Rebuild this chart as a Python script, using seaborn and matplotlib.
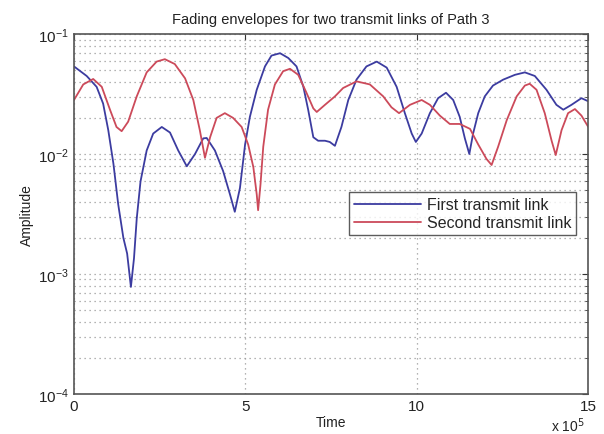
import numpy as np
import pandas as pd
import matplotlib
matplotlib.use("Agg")
import matplotlib.pyplot as plt
import matplotlib.ticker as mticker
import seaborn as sns

# Time in units of 1e5
time_first = [0.0, 0.37, 0.66, 0.85, 1.0, 1.15, 1.29, 1.44, 1.55, 1.66, 1.75, 1.83, 1.94, 2.12,
              2.31, 2.56, 2.80, 3.04, 3.29, 3.53, 3.77, 3.87, 4.11, 4.35, 4.55, 4.69, 4.84, 4.99,
              5.13, 5.33, 5.57, 5.76, 6.01, 6.25, 6.49, 6.69, 6.83, 6.98, 7.12, 7.32, 7.46, 7.61,
              7.80, 8.0, 8.24, 8.53, 8.83, 9.12, 9.41, 9.65, 9.85, 9.97, 10.14, 10.38, 10.62,
              10.85, 11.06, 11.25, 11.40, 11.53, 11.64, 11.79, 11.98, 12.22, 12.52, 12.86, 13.15,
              13.44, 13.78, 14.07, 14.27, 14.51, 14.80, 15.0]
amp_first = [0.0537, 0.0447, 0.0363, 0.0263, 0.0158, 0.0083, 0.0038, 0.0020, 0.00148, 0.00078,
             0.00135, 0.0029, 0.0059, 0.0107, 0.0148, 0.0168, 0.0151, 0.0107, 0.0079, 0.0100,
             0.0135, 0.0136, 0.0107, 0.0072, 0.0046, 0.0033, 0.0052, 0.0120, 0.0204, 0.0343,
             0.0537, 0.0661, 0.0692, 0.0631, 0.0537, 0.0363, 0.0234, 0.0138, 0.0129, 0.0129,
             0.0126, 0.0117, 0.0168, 0.0282, 0.0417, 0.0537, 0.0589, 0.0525, 0.0363, 0.0219,
             0.0148, 0.0126, 0.0148, 0.0219, 0.0292, 0.0324, 0.0282, 0.0204, 0.0135, 0.0100,
             0.0148, 0.0219, 0.0302, 0.0372, 0.0417, 0.0457, 0.0479, 0.0447, 0.0343, 0.0257,
             0.0234, 0.0257, 0.0292, 0.0275]

time_second = [0.0, 0.27, 0.56, 0.81, 1.05, 1.24, 1.39, 1.58, 1.83, 2.12, 2.41, 2.65, 2.94, 3.24,
               3.48, 3.67, 3.82, 3.97, 4.16, 4.40, 4.64, 4.89, 5.08, 5.23, 5.33, 5.37, 5.44, 5.52,
               5.66, 5.86, 6.10, 6.30, 6.54, 6.78, 6.98, 7.08, 7.32, 7.61, 7.85, 8.24, 8.63, 9.02,
               9.26, 9.48, 9.80, 10.14, 10.38, 10.67, 10.96, 11.25, 11.55, 11.79, 12.03, 12.18,
               12.37, 12.62, 12.91, 13.15, 13.29, 13.49, 13.73, 13.93, 14.05, 14.22, 14.41, 14.61,
               14.80, 15.0]
amp_second = [0.0282, 0.0380, 0.0422, 0.0363, 0.0234, 0.0168, 0.0155, 0.0186, 0.0302, 0.0479,
              0.0589, 0.0617, 0.0562, 0.0427, 0.0282, 0.0158, 0.0093, 0.0138, 0.0200, 0.0219,
              0.0200, 0.0168, 0.0120, 0.0078, 0.0046, 0.0034, 0.0056, 0.0115, 0.0234, 0.0380,
              0.0490, 0.0513, 0.0457, 0.0324, 0.0240, 0.0224, 0.0257, 0.0302, 0.0355, 0.0403,
              0.0380, 0.0302, 0.0245, 0.0219, 0.0257, 0.0282, 0.0257, 0.0209, 0.0178, 0.0178,
              0.0162, 0.0120, 0.0091, 0.0081, 0.0115, 0.0191, 0.0302, 0.0372, 0.0385, 0.0343,
              0.0219, 0.0129, 0.0098, 0.0158, 0.0219, 0.0237, 0.0209, 0.0168]

series_names = ["First transmit link", "Second transmit link"]
series_colors = ["#3c3ca0", "#cc4a5a"]
x_ticks = [0, 5, 10, 15]
x_tick_labels = ["0", "5", "10", "15"]
y_ticks = [1e-4, 1e-3, 1e-2, 1e-1]

df = pd.concat([
    pd.DataFrame({"Time": time_first, "Amplitude": amp_first, "Link": series_names[0]}),
    pd.DataFrame({"Time": time_second, "Amplitude": amp_second, "Link": series_names[1]}),
], ignore_index=True)

sns.set_style("white")
plt.rcParams["font.family"] = ["Liberation Sans", "DejaVu Sans"]

fig = plt.figure(figsize=(6.04, 4.35), dpi=100)
ax = fig.add_axes([0.1225, 0.092, 0.8515, 0.8275])

sns.lineplot(data=df, x="Time", y="Amplitude", hue="Link", hue_order=series_names,
             palette=series_colors, linewidth=1.3, ax=ax, sort=False, legend=False)

ax.set_yscale("log")
ax.set_xlim(0, 15)
ax.set_ylim(1e-4, 1e-1)
ax.set_xticks(x_ticks)
ax.set_xticklabels(x_tick_labels)
ax.set_yticks(y_ticks)
ax.yaxis.set_major_formatter(mticker.LogFormatterMathtext())
ax.yaxis.set_minor_locator(mticker.LogLocator(base=10, subs=np.arange(2, 10)))
ax.yaxis.set_minor_formatter(mticker.NullFormatter())

grid_kw = dict(color="#9a9a9a", linestyle=(0, (1, 3)), linewidth=0.9)
ax.grid(True, which="major", axis="both", **grid_kw)
ax.grid(True, which="minor", axis="y", **grid_kw)

ax.tick_params(which="both", direction="in", top=True, right=True, colors="#333333",
               labelcolor="#222222", labelsize=11)
ax.tick_params(which="major", length=4)
ax.tick_params(which="minor", length=2)
for s in ax.spines.values():
    s.set_color("#555555")
    s.set_linewidth(1.2)

ax.set_xlabel("Time", fontsize=10, color="#222222")
ax.set_ylabel("Amplitude", fontsize=10, color="#222222")
ax.xaxis.set_label_coords(0.5, -0.058)
ax.yaxis.set_label_coords(-0.077, 0.5)
ax.set_title("Fading envelopes for two transmit links of Path 3", fontsize=10.5,
             color="#222222", pad=8)
fig.text(0.94, 0.0, r"x 10$^5$", fontsize=10, color="#222222", ha="center", va="bottom")

handles = [plt.Line2D([], [], color=c, linewidth=1.3) for c in series_colors]
leg = ax.legend(handles, series_names, loc="upper right", bbox_to_anchor=(0.977, 0.56),
                fontsize=11.5, frameon=True, fancybox=False, handlelength=4.2,
                borderpad=0.3, labelspacing=0.2, handletextpad=0.4, borderaxespad=0)
leg.get_frame().set_edgecolor("#333333")
leg.get_frame().set_linewidth(1.0)

fig.savefig("out.png", dpi=100, facecolor="white")
